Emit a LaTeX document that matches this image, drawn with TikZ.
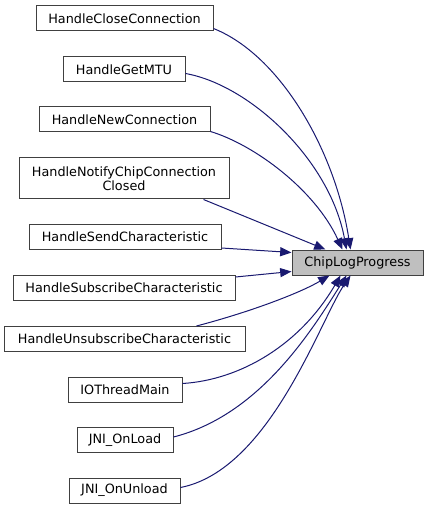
\documentclass[tikz,border=0pt]{standalone}
\usepackage{fontspec}
\setmainfont{DejaVu Sans}
\usetikzlibrary{arrows.meta,calc}
\definecolor{edgeblue}{HTML}{191970}
\definecolor{boxline}{HTML}{404040}
\definecolor{hilite}{HTML}{BFBFBF}
\begin{document}
\begin{tikzpicture}[x=0.75pt,y=-0.75pt,
  fn/.style={draw=boxline,line width=0.75pt,fill=white,inner sep=0pt,
    minimum height=25*0.75pt,align=center,
    font=\fontsize{9.6pt}{10.4pt}\selectfont},
  edge/.style={draw=edgeblue,line width=0.75pt,
    -{Triangle[length=8.5pt,width=6.8pt,fill=edgeblue]}}]
\useasboundingbox (0,0) rectangle (428,509);
\node[fn,minimum width=177*0.75pt] (close) at (124.5,18.5) {HandleCloseConnection};
\node[fn,minimum width=122*0.75pt] (mtu) at (124,69.5) {HandleGetMTU};
\node[fn,minimum width=171*0.75pt] (newc) at (124.5,119.5) {HandleNewConnection};
\node[fn,minimum width=210*0.75pt,minimum height=41*0.75pt] (notify) at (124,178.5) {HandleNotifyChipConnection\\Closed};
\node[fn,minimum width=192*0.75pt] (send) at (125,237) {HandleSendCharacteristic};
\node[fn,minimum width=222*0.75pt] (sub) at (124,288) {HandleSubscribeCharacteristic};
\node[fn,minimum width=241*0.75pt] (unsub) at (124.5,339) {HandleUnsubscribeCharacteristic};
\node[fn,minimum width=114*0.75pt] (io) at (125,389.5) {IOThreadMain};
\node[fn,minimum width=96*0.75pt] (load) at (125,440) {JNI\_OnLoad};
\node[fn,minimum width=111*0.75pt] (unload) at (124.5,490.5) {JNI\_OnUnload};
\node[fn,fill=hilite,minimum width=131*0.75pt] (chip) at (357.5,262.5) {ChipLogProgress};

\draw[edge] ($(close.south east)+(0,-3)$) .. controls (280,55) and (335,150) .. ($(chip.north west)+(59,0)$);
\draw[edge] ($(mtu.east)+(0,4)$) .. controls (250,85) and (330,160) .. ($(chip.north west)+(55,0)$);
\draw[edge] ($(newc.south east)+(0,-1)$) .. controls (255,145) and (315,190) .. ($(chip.north west)+(51,0)$);
\draw[edge] ($(notify.south west)+(185,0)$) -- ($(chip.north west)+(34,0)$);
\draw[edge] ($(send.south east)+(0,-2)$) -- ($(chip.north west)+(0,3)$);
\draw[edge] ($(sub.north east)+(0,2)$) -- ($(chip.south west)+(0,-4)$);
\draw[edge] ($(unsub.north west)+(193,0)$) .. controls (250,312) and (300,293) .. ($(chip.south west)+(38,0)$);
\draw[edge] ($(io.east)+(0,-6)$) .. controls (240,380) and (300,345) .. ($(chip.south west)+(49,0)$);
\draw[edge] ($(load.east)+(0,-3)$) .. controls (260,415) and (312,330) .. ($(chip.south west)+(55,0)$);
\draw[edge] ($(unload.east)+(0,-3)$) .. controls (270,470) and (320,320) .. ($(chip.south west)+(59,0)$);
\end{tikzpicture}
\end{document}
